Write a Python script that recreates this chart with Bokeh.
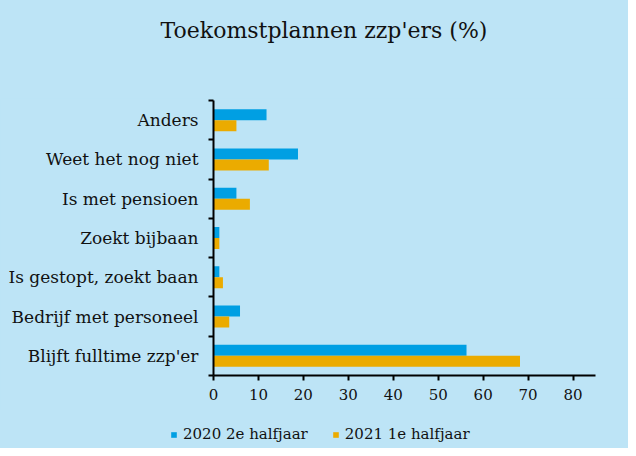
from bokeh.plotting import figure
from bokeh.layouts import column
from bokeh.models import Range1d, FixedTicker, Legend, LegendItem, ColumnDataSource, Label
from bokeh.transform import dodge
from bokeh.embed import file_html
from bokeh.resources import INLINE

categories = ["Blijft fulltime zzp'er", "Bedrijf met personeel", "Is gestopt, zoekt baan",
              "Zoekt bijbaan", "Is met pensioen", "Weet het nog niet", "Anders"]
s2020 = [56.3, 5.9, 1.3, 1.3, 5.1, 18.8, 11.8]
s2021 = [68.2, 3.5, 2.1, 1.3, 8.1, 12.3, 5.1]
series_names = ["2020 2e halfjaar", "2021 1e halfjaar"]
x_ticks = [0, 10, 20, 30, 40, 50, 60, 70, 80]
title_text = "Toekomstplannen zzp'ers (%)"

BG = "#BDE4F6"
BLUE = "#009FE3"
ORANGE = "#EBAB00"
FONT = "DejaVu Serif"
TXT = "#111111"
W = 628


def style(f):
    f.frame_align = False
    f.background_fill_color = BG
    f.border_fill_color = BG
    f.outline_line_color = BG
    f.outline_line_width = 2
    f.grid.visible = False
    f.styles = {"background-color": BG}


def strip(h):
    s = figure(width=W, height=h, output_backend="svg", toolbar_location=None,
               x_range=Range1d(0, W), y_range=Range1d(0, h),
               x_axis_location=None, y_axis_location=None,
               min_border_left=0, min_border_right=0, min_border_top=0, min_border_bottom=0)
    style(s)
    return s


# title strip
top = strip(98)
top.add_layout(Label(x=323.5, y=68, text=title_text, text_align="center", text_baseline="middle",
                     text_font=FONT, text_font_size="22px", text_color=TXT))

# main chart
pos = list(range(1, len(categories) + 1))
src = ColumnDataSource(dict(y=pos, a=s2020, b=s2021))

p = figure(width=W, height=312, output_backend="svg", toolbar_location=None,
           x_range=Range1d(0, 85), y_range=Range1d(0.5, len(categories) + 0.5),
           min_border_left=213, min_border_right=33, min_border_top=2, min_border_bottom=35)
style(p)

r1 = p.hbar(y=dodge("y", 0.14, range=p.y_range), right="a", left=0, height=0.28,
            source=src, fill_color=BLUE, line_color=None)
r2 = p.hbar(y=dodge("y", -0.14, range=p.y_range), right="b", left=0, height=0.28,
            source=src, fill_color=ORANGE, line_color=None)

ya = p.yaxis[0]
ya.ticker = FixedTicker(ticks=pos, minor_ticks=[i + 0.5 for i in range(0, len(categories) + 1)])
ya.major_label_overrides = {i: c for i, c in zip(pos, categories)}
ya.major_tick_out = 0
ya.major_tick_in = 0
ya.minor_tick_out = 5
ya.minor_tick_in = 0
ya.minor_tick_line_width = 2
ya.minor_tick_line_color = "black"
ya.axis_line_width = 2
ya.axis_line_color = "black"
ya.major_label_text_font = FONT
ya.major_label_text_font_size = "17px"
ya.major_label_text_color = TXT
ya.major_label_standoff = 10

xa = p.xaxis[0]
xa.ticker = FixedTicker(ticks=x_ticks)
xa.minor_tick_out = 0
xa.minor_tick_in = 0
xa.major_tick_out = 5
xa.major_tick_in = 0
xa.major_tick_line_width = 2
xa.major_tick_line_color = "black"
xa.axis_line_width = 2
xa.axis_line_color = "black"
xa.major_label_text_font = FONT
xa.major_label_text_font_size = "15px"
xa.major_label_text_color = TXT
xa.major_label_standoff = 8

# legend strip (legend swatches use off-screen proxy bars)
q = strip(38)
proxy = ColumnDataSource(dict(y=[-100], r=[1]))
l1 = q.hbar(y="y", right="r", height=1, source=proxy, fill_color=BLUE, line_color=None)
l2 = q.hbar(y="y", right="r", height=1, source=proxy, fill_color=ORANGE, line_color=None)
legend = Legend(items=[LegendItem(label=series_names[0], renderers=[l1]),
                       LegendItem(label=series_names[1], renderers=[l2])],
                orientation="horizontal", location=(170, 5),
                background_fill_alpha=0, border_line_color=None,
                glyph_width=7, glyph_height=7, label_standoff=6, spacing=24, label_height=16,
                label_text_font=FONT, label_text_font_size="15px", label_text_color=TXT,
                margin=0, padding=2)
q.add_layout(legend, "center")

layout = column(top, p, q, spacing=0, styles={"background-color": BG})
open("out.html", "w").write(file_html(layout, INLINE))
